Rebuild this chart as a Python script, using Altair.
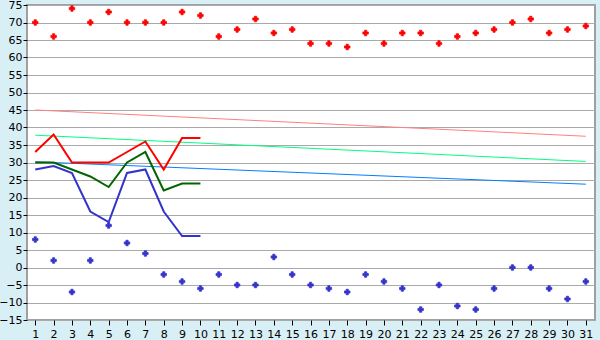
import altair as alt
import pandas as pd

days = list(range(1, 32))
high_pts = [70, 66, 74, 70, 73, 70, 70, 70, 73, 72, 66, 68, 71, 67, 68, 64,
            64, 63, 67, 64, 67, 67, 64, 66, 67, 68, 70, 71, 67, 68, 69]
low_pts = [8, 2, -7, 2, 12, 7, 4, -2, -4, -6, -2, -5, -5, 3, -2, -5,
           -6, -7, -2, -4, -6, -12, -5, -11, -12, -6, 0, 0, -6, -9, -4]

line_days = list(range(1, 11))
red_line = [33, 38, 30, 30, 30, 33, 36, 28, 37, 37]
green_line = [30, 30, 28, 26, 23, 30, 33, 22, 24, 24]
blue_line = [28, 29, 27, 16, 13, 27, 28, 16, 9, 9]

trend_days = [1, 31]
trend_pink = [45, 37.5]
trend_green = [37.8, 30.3]
trend_blue = [30.2, 23.8]

pts = pd.DataFrame({"day": days, "high": high_pts, "low": low_pts})
lines = pd.DataFrame({"day": line_days, "red": red_line, "green": green_line, "blue": blue_line})
trends = pd.DataFrame({"day": trend_days, "pink": trend_pink, "tgreen": trend_green, "tblue": trend_blue})

xscale = alt.Scale(domain=[0.55, 31.5], nice=False, zero=False)
yscale = alt.Scale(domain=[-15, 75], nice=False, zero=False)

xaxis = alt.Axis(values=days, grid=False, tickSize=5, tickColor="#000000",
                 labelFontSize=11, labelColor="#000000", labelFont="DejaVu Sans",
                 domain=False, title=None, labelPadding=3)
yaxis = alt.Axis(values=list(range(-15, 80, 5)), grid=True, gridColor="#AAAAAA",
                 tickSize=4, tickColor="#000000", labelFontSize=11, labelColor="#000000",
                 labelFont="DejaVu Sans", domain=False, title=None, labelPadding=1)

base_t = alt.Chart(trends)
def tline(field, color):
    return base_t.mark_line(strokeWidth=1, color=color).encode(
        x=alt.X("day:Q", scale=xscale, axis=xaxis),
        y=alt.Y(f"{field}:Q", scale=yscale, axis=yaxis))

base_l = alt.Chart(lines)
def dline(field, color):
    return base_l.mark_line(strokeWidth=2, color=color).encode(
        x=alt.X("day:Q", scale=xscale, axis=xaxis),
        y=alt.Y(f"{field}:Q", scale=yscale, axis=yaxis))

base_p = alt.Chart(pts)
def dpts(field, color):
    return base_p.mark_point(shape="cross", filled=True, size=30, color=color, opacity=1,
                             stroke=color, strokeWidth=0.8).encode(
        x=alt.X("day:Q", scale=xscale, axis=xaxis),
        y=alt.Y(f"{field}:Q", scale=yscale, axis=yaxis))

chart = alt.layer(
    tline("pink", "#FF8080"),
    tline("tgreen", "#00FF80"),
    tline("tblue", "#0080FF"),
    dline("blue", "#3333CC"),
    dline("green", "#006600"),
    dline("red", "#FF0000"),
    dpts("high", "#FF0000"),
    dpts("low", "#3333CC"),
).properties(
    width=568, height=315,
    autosize=alt.AutoSizeParams(type="none"),
    padding={"left": 27, "top": 5, "right": 5, "bottom": 20},
    background="#D9EFF6",
).configure_view(
    fill="#FFFFFF", stroke="#A0A0A0", strokeWidth=2
)

chart.save("out.html", embed_options={"renderer": "svg", "actions": False})
